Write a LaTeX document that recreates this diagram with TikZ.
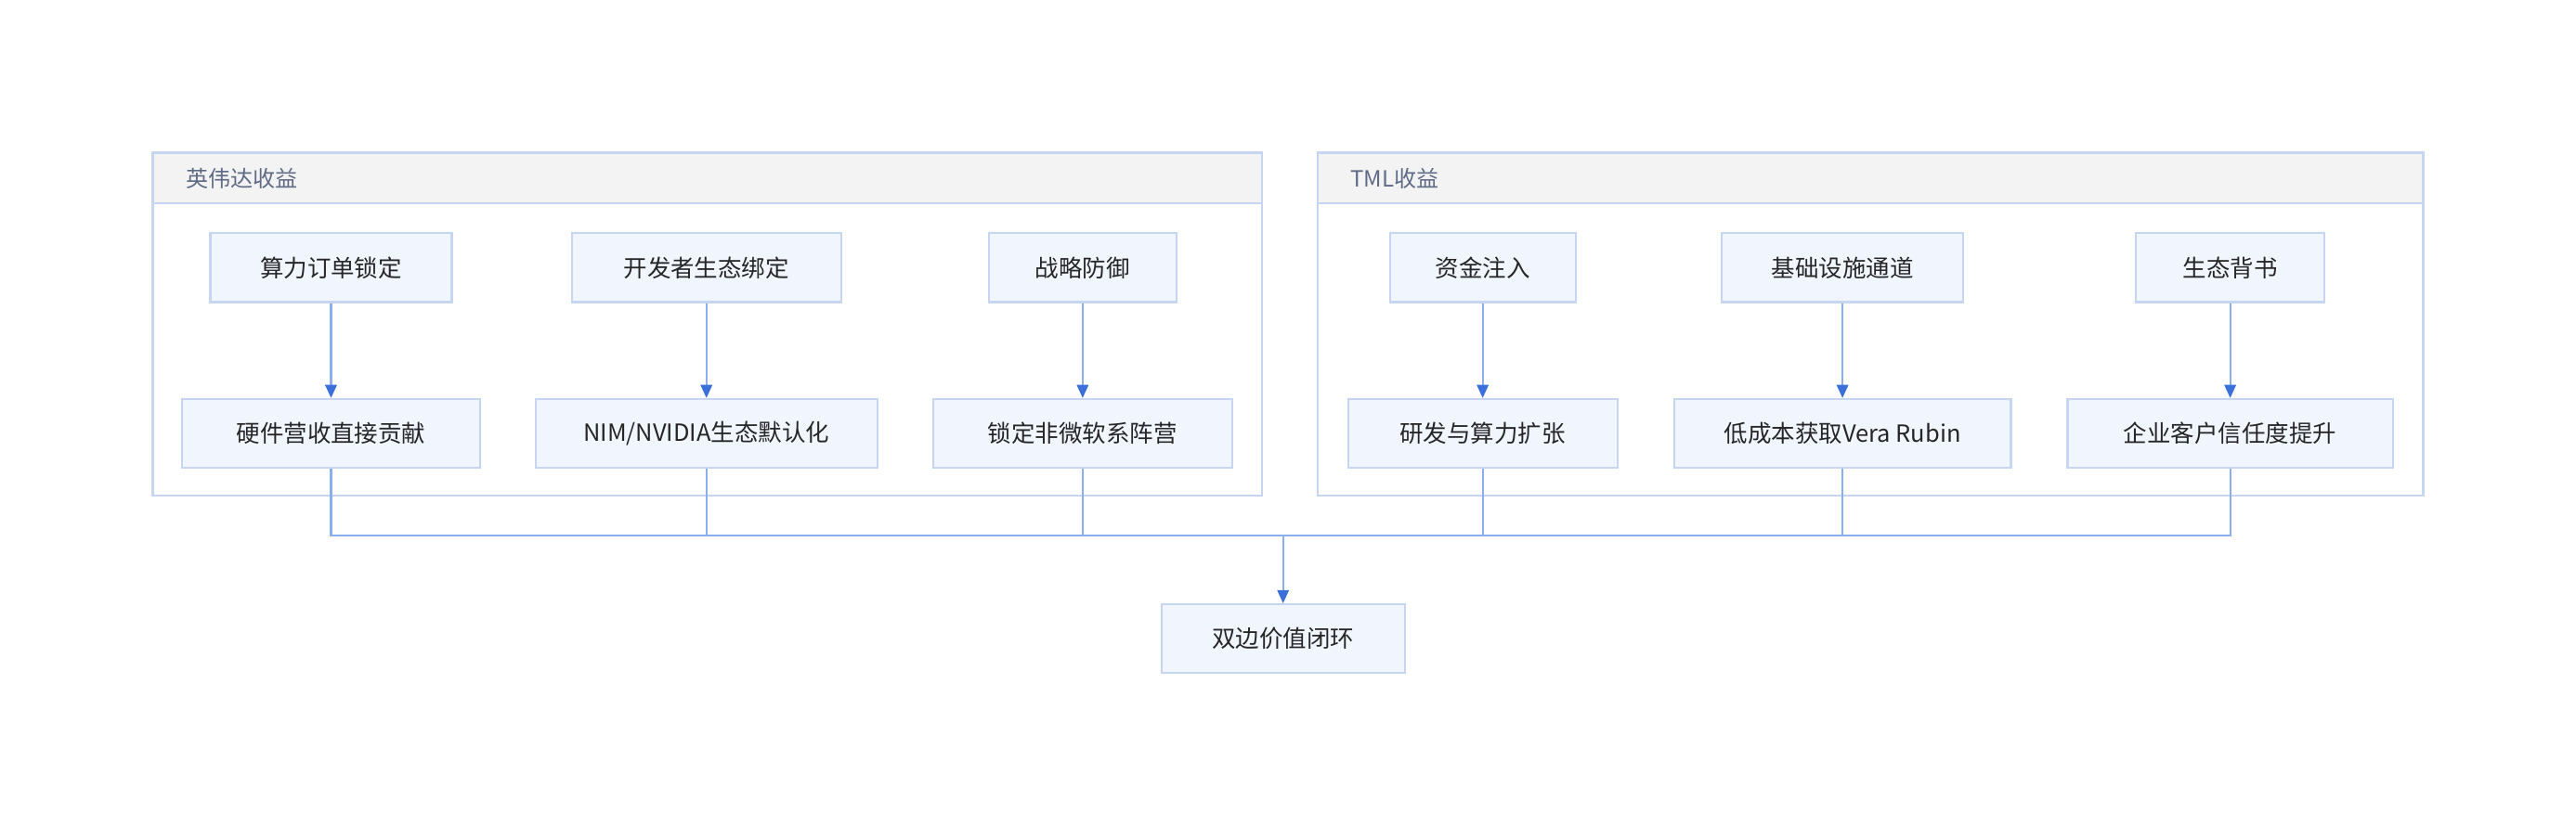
\documentclass[tikz,border=0pt]{standalone}
\usepackage{fontspec}
\setmainfont{Noto Sans CJK SC}
\usetikzlibrary{arrows.meta}
\definecolor{bd}{HTML}{C5D5F2}
\definecolor{nf}{HTML}{F0F5FE}
\definecolor{hf}{HTML}{F3F3F3}
\definecolor{ln}{HTML}{8AAEEE}
\definecolor{ar}{HTML}{3B6FD9}
\definecolor{ht}{HTML}{5F6B85}
\begin{document}
\begin{tikzpicture}[x=0.5pt,y=-0.5pt,
  nd/.style={draw=bd,fill=nf,line width=0.6pt,inner sep=0pt,font=\fontsize{7.2pt}{8pt}\selectfont,text=black!85},
  cl/.style={draw=bd,line width=0.6pt,fill=white},
  hd/.style={draw=bd,line width=0.6pt,fill=hf},
  arr/.style={draw=ln,line width=0.6pt,-{Triangle[length=4pt,width=3.5pt,fill=ar,color=ar]}},
  ln/.style={draw=ln,line width=0.6pt}]
\useasboundingbox (0,0) rectangle (1568,503);
\fill[white] (0,0) rectangle (1568,503);
\draw[cl] (93,93) rectangle (768,302);
\draw[hd] (93,93) rectangle (768,124);
\node[anchor=west,text=ht,font=\fontsize{6.8pt}{8pt}\selectfont] (h1) at (106,108.5) {英伟达收益};
\draw[cl] (802,93) rectangle (1475,302);
\draw[hd] (802,93) rectangle (1475,124);
\node[anchor=west,text=ht,font=\fontsize{6.8pt}{8pt}\selectfont] (h2) at (815,108.5) {TML收益};
\newcommand{\bx}[6]{\node[nd,minimum width=#3*0.5pt,minimum height=#5*0.5pt] (#1) at (#2,#4) {#6};}
\bx{a1}{201.5}{147}{163}{42}{算力订单锁定}
\bx{a2}{430}{164}{163}{42}{开发者生态绑定}
\bx{a3}{659}{114}{163}{42}{战略防御}
\bx{b1}{201.5}{181}{264}{42}{硬件营收直接贡献}
\bx{b2}{430}{208}{264}{42}{NIM/NVIDIA生态默认化}
\bx{b3}{659}{182}{264}{42}{锁定非微软系阵营}
\bx{c1}{902.5}{113}{163}{42}{资金注入}
\bx{c2}{1121.5}{147}{163}{42}{基础设施通道}
\bx{c3}{1357.5}{115}{163}{42}{生态背书}
\bx{d1}{902.5}{164}{264}{42}{研发与算力扩张}
\bx{d2}{1121.5}{205}{264}{42}{低成本获取Vera Rubin}
\bx{d3}{1357.5}{198}{264}{42}{企业客户信任度提升}
\bx{f}{781}{148}{389}{42}{双边价值闭环}
\coordinate (m) at (781,326);
\foreach \t/\b in {a1/b1,a2/b2,a3/b3,c1/d1,c2/d2,c3/d3}{\draw[arr] (\t) -- (\b);}
\foreach \b in {b1,b2,b3,d1,d2,d3}{\draw[ln] (\b.south) |- (m);}
\draw[arr] (m) -- (f);
\end{tikzpicture}
\end{document}
